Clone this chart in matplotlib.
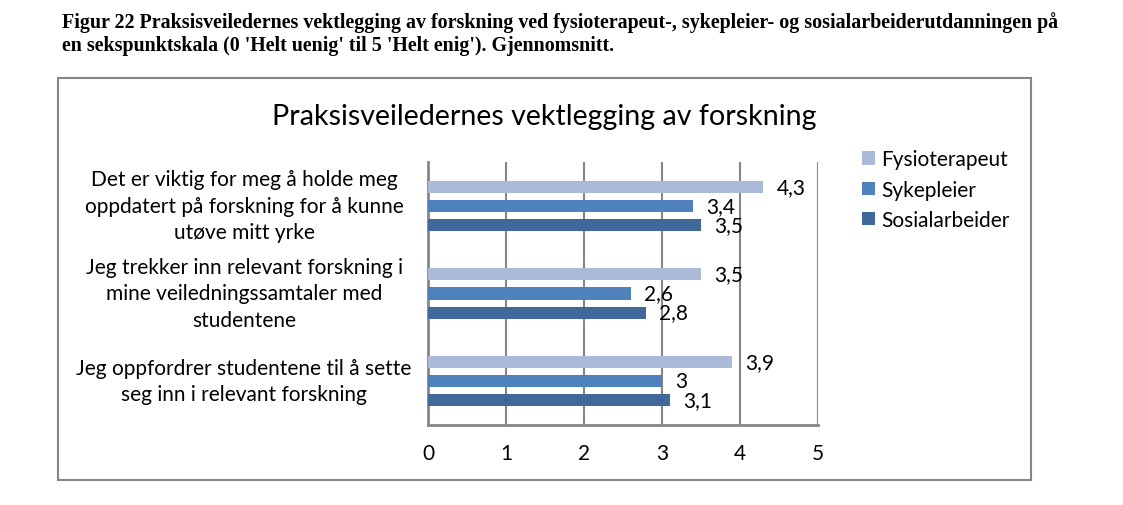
import matplotlib
matplotlib.use("Agg")
import matplotlib.pyplot as plt
import matplotlib.transforms as mtransforms
from matplotlib.patches import Rectangle
import numpy as np

categories = ["Det er viktig for meg å holde meg\noppdatert på forskning for å kunne\nutøve mitt yrke",
              "Jeg trekker inn relevant forskning i\nmine veiledningssamtaler med\nstudentene",
              "Jeg oppfordrer studentene til å sette\nseg inn i relevant forskning"]
series = ["Fysioterapeut", "Sykepleier", "Sosialarbeider"]
fysio = [4.3, 3.5, 3.9]
syke = [3.4, 2.6, 3.0]
sosial = [3.5, 2.8, 3.1]
colors = ["#AABAD7", "#4F81BD", "#41689A"]

W, H = 1123, 506
fig = plt.figure(figsize=(W / 100, H / 100), dpi=100)

def fx(px):
    return px / W

def fy(py):
    return 1 - py / H

# figure caption
fig.text(fx(62), fy(34), "Figur 22 Praksisveiledernes vektlegging av forskning ved fysioterapeut-, sykepleier- og sosialarbeiderutdanningen på\n"
         "en sekspunktskala (0 'Helt uenig' til 5 'Helt enig'). Gjennomsnitt.",
         family="Liberation Serif", fontweight="bold", fontsize=14.4, va="center", ha="left", linespacing=1.2)

# chart frame
fig.patches.append(Rectangle((fx(58), fy(481)), fx(1031) - fx(58), fy(79) - fy(481),
                             transform=fig.transFigure, fill=False, edgecolor="#868686", linewidth=1.5))

fig.text(fx(544), fy(117), "Praksisveiledernes vektlegging av forskning", family="Lato",
         fontsize=20.6, ha="center", va="center")

fs = 15
ax = fig.add_axes([fx(428), fy(426), fx(818) - fx(428), fy(163) - fy(426)])
y = np.arange(len(categories))
off = 0.217
h = 0.137
for vals, name, c, d in zip([fysio, syke, sosial], series, colors, [-off, 0, off]):
    bars = ax.barh(y + d, vals, height=h, color=c, label=name, zorder=3)
    for b, v in zip(bars, vals):
        ax.annotate(f"{v:g}".replace(".", ","), (v, b.get_y() + b.get_height() / 2),
                    xytext=(13, 0), textcoords="offset pixels",
                    va="center", ha="left", family="Lato", fontsize=fs, zorder=4)

ax.set_xlim(0, 5)
ax.set_ylim(2.5, -0.5)
ax.set_xticks(range(6))
ax.set_yticks([])
ax.grid(axis="x", color="#868686", linewidth=1.5, zorder=0)
for s in ["top", "right"]:
    ax.spines[s].set_visible(False)
for s in ["left", "bottom"]:
    ax.spines[s].set_color("#868686")
    ax.spines[s].set_linewidth(2)
ax.tick_params(axis="x", length=0, pad=13, labelsize=fs)
for t in ax.get_xticklabels():
    t.set_family("Lato")

trans = mtransforms.blended_transform_factory(fig.transFigure, ax.transData)
for yi, cat in zip(y, categories):
    ax.text(fx(244), yi, cat, transform=trans, ha="center", va="center",
            family="Lato", fontsize=fs, linespacing=1.4)

leg = ax.legend(loc="upper left", bbox_to_anchor=(fx(854), fy(142)), bbox_transform=fig.transFigure,
                frameon=False, prop={"family": "Lato", "size": fs}, handlelength=0.6,
                handleheight=0.6, handletextpad=0.3, labelspacing=0.5, borderaxespad=0)

fig.savefig("out.png", dpi=100)
